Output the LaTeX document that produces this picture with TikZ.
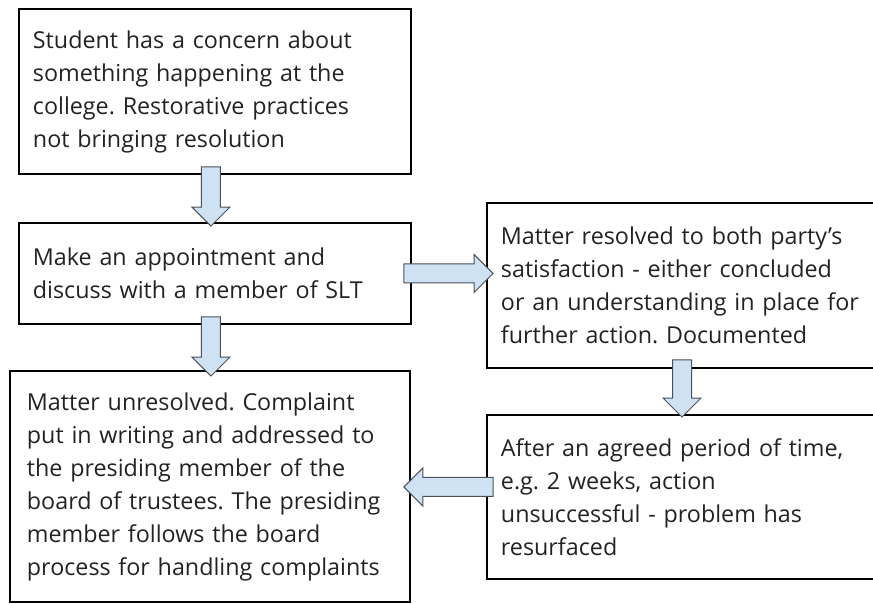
\documentclass[tikz,border=0pt]{standalone}
\usepackage{fontspec}
\setmainfont{Open Sans}
\usetikzlibrary{calc}

\definecolor{arrowfill}{HTML}{CFE2F3}
\definecolor{arrowedge}{HTML}{4A5058}
\definecolor{inkgray}{HTML}{222222}

\tikzset{
  stepbox/.style={draw=black, line width=1.9pt, anchor=north west,
    inner xsep=14pt, inner ysep=0pt, align=left, text=inkgray,
    font=\fontsize{23.3}{33}\selectfont},
  % block arrow: shaft 19 wide, head 38 wide and 19 long
  fatarrow/.style={draw=arrowedge, fill=arrowfill, line width=1pt, line join=miter,
    to path={
      ($(\tikztotarget)!19pt!(\tikztostart)$) coordinate (fa-h)
      ($(\tikztostart)!9.5pt!90:(\tikztotarget)$)
      -- ($(fa-h)!9.5pt!-90:(\tikztostart)$)
      -- ($(fa-h)!19pt!-90:(\tikztostart)$)
      -- (\tikztotarget)
      -- ($(fa-h)!19pt!90:(\tikztostart)$)
      -- ($(fa-h)!9.5pt!90:(\tikztostart)$)
      -- ($(\tikztostart)!9.5pt!-90:(\tikztotarget)$)
      -- cycle}}
}

\begin{document}
\frenchspacing
\begin{tikzpicture}[x=1pt, y=1pt]
  \useasboundingbox (0,0) rectangle (873,-603);
  \clip (0,0) rectangle (873,-603);

  % left column
  \node[stepbox, minimum width=392, minimum height=165, text width=364] (concern) at (18,-8)
    {Student has a concern about\\ something happening at the\\ college. Restorative practices\\ not bringing resolution};
  \node[stepbox, minimum width=392, minimum height=101, text width=364] (meet) at (18,-222)
    {Make an appointment and\\ discuss with a member of SLT};
  \node[stepbox, minimum width=400, minimum height=231, inner xsep=17pt, text width=366] (unresolved) at (9,-370)
    {Matter unresolved. Complaint\\ put in writing and addressed to\\ the presiding member of the\\ board of trustees. The presiding\\ member follows the board\\ process for handling complaints};

  % right column, boxes run past the right edge
  \node[stepbox, minimum width=420, minimum height=165, text width=392] (resolved) at (486,-202)
    {Matter resolved to both party’s\\ satisfaction - either concluded\\ or an understanding in place for\\ further action. Documented};
  \node[stepbox, minimum width=420, minimum height=164, text width=392] (resurfaced) at (486,-414)
    {After an agreed period of time,\\ e.g. 2 weeks, action\\ unsuccessful - problem has\\ resurfaced};

  % arrow ends, overlapping the box borders a little
  \coordinate (c1s) at ($(concern.south)+(-4,8)$);
  \coordinate (c1e) at ($(meet.north)+(-4,-4)$);
  \coordinate (c2s) at ($(meet.south)+(-4,8)$);
  \coordinate (c2e) at ($(unresolved.north)+(1,-6)$);
  \coordinate (c3s) at ($(meet.east)+(-8,0)$);
  \coordinate (c3e) at ($(resolved.west |- meet.east)+(7,0)$);
  \coordinate (c4s) at ($(resolved.south west)+(196,9)$);
  \coordinate (c4e) at ($(resurfaced.north west)+(196,-3)$);
  \coordinate (c5s) at ($(resurfaced.west)+(7,10)$);
  \coordinate (c5e) at ($(unresolved.east |- c5s)+(-7,0)$);

  \draw[fatarrow] (c1s) to (c1e);
  \draw[fatarrow] (c2s) to (c2e);
  \draw[fatarrow] (c3s) to (c3e);
  \draw[fatarrow] (c4s) to (c4e);
  \draw[fatarrow] (c5s) to (c5e);
\end{tikzpicture}
\end{document}
